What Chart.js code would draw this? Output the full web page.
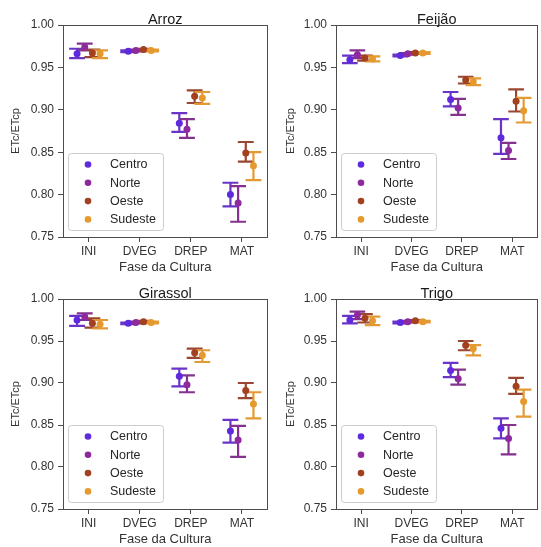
<!DOCTYPE html>
<html>
<head>
<meta charset="utf-8">
<script src="https://cdn.jsdelivr.net/npm/chart.js@4"></script>
<style>
  html, body { margin: 0; padding: 0; background: #fff; }
  #wrap { position: relative; width: 541px; height: 547px; overflow: hidden; background: #fff; }
  canvas { position: absolute; }
</style>
</head>
<body>
<div id="wrap">
  <canvas id="pArroz" width="271" height="273" style="left:0;top:0;width:271px;height:273px"></canvas>
  <canvas id="pFeijao" width="270" height="273" style="left:271px;top:0;width:270px;height:273px"></canvas>
  <canvas id="pGirassol" width="271" height="272" style="left:0;top:273px;width:271px;height:272px"></canvas>
  <canvas id="pTrigo" width="270" height="272" style="left:271px;top:273px;width:270px;height:272px"></canvas>
</div>
<script>
// Crop phases (x categories), regions (hue) and y tick values
const phases = ['INI', 'DVEG', 'DREP', 'MAT'];
const regions = ['Centro', 'Norte', 'Oeste', 'Sudeste'];
const yTicks = [0.75, 0.80, 0.85, 0.90, 0.95, 1.00];

// ETc/ETcp per region (rows: Centro, Norte, Oeste, Sudeste; columns: phases)
const arrozMean = [[0.966, 0.969, 0.884, 0.800], [0.974, 0.970, 0.877, 0.790], [0.967, 0.971, 0.916, 0.849], [0.966, 0.970, 0.914, 0.834]];
const arrozLow  = [[0.961, 0.968, 0.874, 0.786], [0.970, 0.969, 0.867, 0.768], [0.962, 0.970, 0.908, 0.839], [0.961, 0.969, 0.907, 0.817]];
const arrozHigh = [[0.972, 0.970, 0.896, 0.814], [0.978, 0.971, 0.889, 0.810], [0.971, 0.972, 0.923, 0.862], [0.970, 0.971, 0.921, 0.850]];

const feijaoMean = [[0.959, 0.964, 0.912, 0.867], [0.965, 0.966, 0.902, 0.852], [0.961, 0.967, 0.935, 0.910], [0.960, 0.967, 0.933, 0.899]];
const feijaoLow  = [[0.955, 0.963, 0.904, 0.848], [0.961, 0.965, 0.894, 0.842], [0.958, 0.966, 0.931, 0.898], [0.957, 0.966, 0.929, 0.885]];
const feijaoHigh = [[0.964, 0.965, 0.921, 0.889], [0.970, 0.967, 0.913, 0.861], [0.964, 0.968, 0.939, 0.924], [0.963, 0.968, 0.937, 0.914]];

const girassolMean = [[0.975, 0.971, 0.908, 0.843], [0.979, 0.972, 0.898, 0.832], [0.971, 0.973, 0.936, 0.891], [0.970, 0.972, 0.933, 0.875]];
const girassolLow  = [[0.968, 0.970, 0.896, 0.829], [0.975, 0.971, 0.889, 0.812], [0.966, 0.972, 0.930, 0.882], [0.965, 0.971, 0.925, 0.858]];
const girassolHigh = [[0.980, 0.972, 0.917, 0.856], [0.983, 0.973, 0.909, 0.849], [0.977, 0.974, 0.941, 0.900], [0.975, 0.973, 0.939, 0.889]];

const trigoMean = [[0.975, 0.972, 0.915, 0.846], [0.981, 0.973, 0.905, 0.834], [0.977, 0.974, 0.945, 0.896], [0.974, 0.973, 0.941, 0.878]];
const trigoLow  = [[0.971, 0.971, 0.907, 0.834], [0.976, 0.972, 0.898, 0.815], [0.972, 0.973, 0.939, 0.887], [0.969, 0.972, 0.933, 0.860]];
const trigoHigh = [[0.980, 0.973, 0.924, 0.858], [0.985, 0.974, 0.916, 0.850], [0.982, 0.975, 0.950, 0.906], [0.979, 0.974, 0.945, 0.892]];

// Styling
const regionColors = ['#5f2ade', '#8e2a9e', '#a2401f', '#e69a2e'];
const barColors = ['#6a34c8', '#85318f', '#9a4630', '#e39a34'];
const dodgeOffsets = [-0.225, -0.075, 0.075, 0.225];
const capHalf = 0.155;
const FONT = "'Liberation Sans', Arial, sans-serif";

// Error bars (vertical whisker + caps) drawn through the chart scales
const errorBars = {
  id: 'errorBars',
  beforeDatasetsDraw(chart) {
    const { ctx, scales: { x, y } } = chart;
    ctx.save();
    ctx.lineWidth = 2.2;
    ctx.lineCap = 'butt';
    chart.data.datasets.forEach((ds) => {
      ctx.strokeStyle = ds.barColor;
      ds.data.forEach((pt, i) => {
        const px = x.getPixelForValue(pt.x);
        const yLo = y.getPixelForValue(ds.low[i]);
        const yHi = y.getPixelForValue(ds.high[i]);
        const xl = x.getPixelForValue(pt.x - capHalf);
        const xr = x.getPixelForValue(pt.x + capHalf);
        ctx.beginPath();
        ctx.moveTo(px, yLo); ctx.lineTo(px, yHi);
        ctx.moveTo(xl, yLo); ctx.lineTo(xr, yLo);
        ctx.moveTo(xl, yHi); ctx.lineTo(xr, yHi);
        ctx.stroke();
      });
    });
    ctx.restore();
  }
};

// Full rectangular frame around the plotting area
const frame = {
  id: 'frame',
  beforeDatasetsDraw(chart) {
    const { ctx, chartArea: a } = chart;
    ctx.save();
    ctx.strokeStyle = '#4d4d4d';
    ctx.lineWidth = 1;
    ctx.strokeRect(Math.round(a.left) + 0.5, Math.round(a.top) + 0.5, Math.round(a.right - a.left) - 1, Math.round(a.bottom - a.top));
    ctx.restore();
  }
};

// Panel title above the frame
const panelTitle = {
  id: 'panelTitle',
  afterDraw(chart, args, opts) {
    const { ctx, chartArea: a } = chart;
    ctx.save();
    ctx.font = `14.5px ${FONT}`;
    ctx.fillStyle = '#1a1a1a';
    ctx.textAlign = 'center';
    ctx.textBaseline = 'alphabetic';
    ctx.fillText(opts.text, (a.left + a.right) / 2, a.top - 1.5);
    ctx.restore();
  }
};

// Legend box in the lower-left corner of the plotting area
const cornerLegend = {
  id: 'cornerLegend',
  afterDraw(chart) {
    const { ctx, chartArea: a } = chart;
    const w = 95, h = 77;
    const lx = a.left + 5, ly = a.bottom - 7 - h;
    ctx.save();
    ctx.fillStyle = 'rgba(255,255,255,0.85)';
    ctx.strokeStyle = '#cccccc';
    ctx.lineWidth = 1;
    ctx.beginPath();
    ctx.roundRect(lx + 0.5, ly + 0.5, w, h, 3);
    ctx.fill();
    ctx.stroke();
    ctx.font = `12.5px ${FONT}`;
    ctx.textBaseline = 'middle';
    ctx.textAlign = 'left';
    chart.data.datasets.forEach((ds, i) => {
      const ry = ly + 11.5 + i * 18.3;
      ctx.fillStyle = ds.backgroundColor;
      ctx.beginPath();
      ctx.arc(lx + 20, ry, 3.3, 0, Math.PI * 2);
      ctx.fill();
      ctx.fillStyle = '#262626';
      ctx.fillText(ds.label, lx + 42, ry + 0.5);
    });
    ctx.restore();
  }
};

function makePanel(id, title, mean, low, high, layout) {
  const datasets = regions.map((r, k) => ({
    label: r,
    data: phases.map((p, i) => ({ x: i + dodgeOffsets[k], y: mean[k][i] })),
    low: low[k],
    high: high[k],
    backgroundColor: regionColors[k],
    borderColor: regionColors[k],
    barColor: barColors[k],
    pointRadius: 3.5,
    pointHoverRadius: 3.5,
    borderWidth: 0,
    showLine: false
  }));

  return new Chart(document.getElementById(id), {
    type: 'scatter',
    data: { datasets },
    plugins: [frame, errorBars, panelTitle, cornerLegend],
    options: {
      responsive: false,
      animation: false,
      devicePixelRatio: 1,
      layout: { padding: { top: layout.top, right: layout.right, left: 0, bottom: 0 } },
      plugins: {
        legend: { display: false },
        tooltip: { enabled: false },
        panelTitle: { text: title }
      },
      scales: {
        x: {
          type: 'linear',
          min: -0.5,
          max: 3.5,
          afterBuildTicks: (s) => { s.ticks = phases.map((p, i) => ({ value: i })); },
          afterFit: (s) => { s.height = 36; },
          ticks: {
            callback: (v) => phases[v],
            font: { family: FONT, size: 12 },
            color: '#333',
            padding: 2,
            maxRotation: 0,
            autoSkip: false
          },
          grid: { drawOnChartArea: false, drawTicks: true, tickLength: 5, color: '#4d4d4d' },
          border: { display: false },
          title: {
            display: true,
            text: 'Fase da Cultura',
            font: { family: FONT, size: 13 },
            color: '#333',
            padding: { top: 0, bottom: -2 }
          }
        },
        y: {
          type: 'linear',
          min: 0.75,
          max: 1.0,
          afterBuildTicks: (s) => { s.ticks = yTicks.map((v) => ({ value: v })); },
          afterFit: (s) => { s.width = layout.left; },
          ticks: {
            callback: (v) => v.toFixed(2),
            font: { family: FONT, size: 12 },
            color: '#333',
            padding: 4
          },
          grid: { drawOnChartArea: false, drawTicks: true, tickLength: 5, color: '#4d4d4d' },
          border: { display: false },
          title: {
            display: true,
            text: 'ETc/ETcp',
            font: { family: FONT, size: 11 },
            color: '#333',
            padding: { top: layout.titlePad, bottom: 0 }
          }
        }
      }
    }
  });
}

makePanel('pArroz', 'Arroz', arrozMean, arrozLow, arrozHigh, { top: 25, right: 1, left: 63, titlePad: 9 });
makePanel('pFeijao', 'Feijão', feijaoMean, feijaoLow, feijaoHigh, { top: 25, right: 0, left: 65, titlePad: 13 });
makePanel('pGirassol', 'Girassol', girassolMean, girassolLow, girassolHigh, { top: 26, right: 1, left: 63, titlePad: 9 });
makePanel('pTrigo', 'Trigo', trigoMean, trigoLow, trigoHigh, { top: 26, right: 0, left: 65, titlePad: 13 });
</script>
</body>
</html>
